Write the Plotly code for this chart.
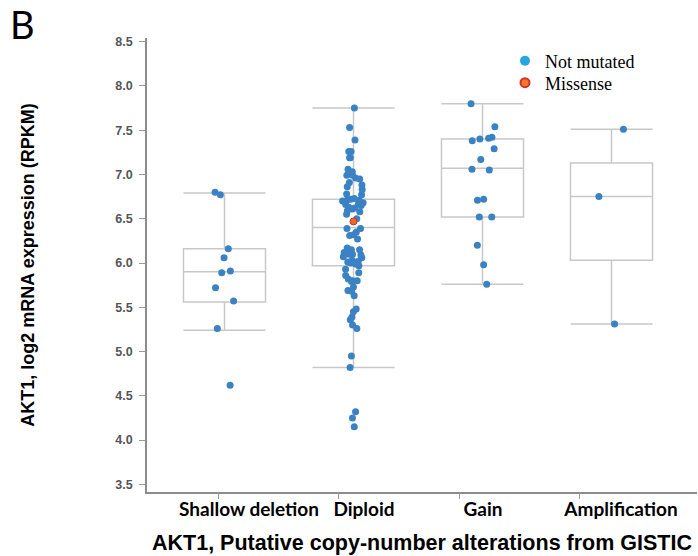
import plotly.graph_objects as go

# ---------------- data ----------------
categories = ["Shallow deletion", "Diploid", "Gain", "Amplification"]

shallow_deletion = [6.80, 6.77, 6.16, 6.06, 5.91, 5.89, 5.72, 5.57, 5.26, 4.62]
diploid = [7.75, 7.53, 7.39, 7.26, 7.26, 7.19, 7.19, 7.06, 7.03, 6.99, 6.99, 6.96,
           6.95, 6.91, 6.88, 6.86, 6.83, 6.78, 6.77, 6.73, 6.72, 6.71, 6.71, 6.70,
           6.68, 6.67, 6.66, 6.65, 6.63, 6.62, 6.61, 6.59, 6.58, 6.55, 6.50, 6.39,
           6.39, 6.35, 6.32, 6.31, 6.27, 6.17, 6.15, 6.15, 6.13, 6.12, 6.10, 6.10,
           6.09, 6.07, 6.06, 6.03, 6.02, 6.01, 6.00, 5.99, 5.97, 5.93, 5.89, 5.86,
           5.82, 5.80, 5.80, 5.79, 5.73, 5.69, 5.68, 5.63, 5.48, 5.45, 5.39, 5.36,
           5.30, 5.26, 4.95, 4.82, 4.32, 4.25, 4.15]
gain = [7.80, 7.54, 7.42, 7.41, 7.40, 7.38, 7.29, 7.17, 7.06, 7.05, 6.72, 6.71,
        6.52, 6.52, 6.20, 5.98, 5.76]
amplification = [7.51, 6.75, 5.31]
missense_category = "Diploid"
missense_values = [6.47]

# box statistics as drawn in the reference
box_lower = [5.24, 4.82, 5.76, 5.31]
box_q1 = [5.56, 5.97, 6.52, 6.03]
box_median = [5.90, 6.40, 7.07, 6.75]
box_q3 = [6.16, 6.72, 7.40, 7.13]
box_upper = [6.79, 7.75, 7.80, 7.51]

y_tick_values = [3.5, 4.0, 4.5, 5.0, 5.5, 6.0, 6.5, 7.0, 7.5, 8.0, 8.5]

# ---------------- figure ----------------
groups = [shallow_deletion, diploid, gain, amplification]
pos = list(range(len(categories)))
BOX_W = 0.636

fig = go.Figure()

fig.add_trace(go.Box(
    x=pos, q1=box_q1, median=box_median, q3=box_q3,
    lowerfence=box_lower, upperfence=box_upper,
    width=BOX_W, whiskerwidth=1, boxpoints=False,
    line=dict(color="#c8c8c8", width=1.5),
    fillcolor="rgba(255,255,255,0)", showlegend=False, hoverinfo="skip",
))

xs, ys = [], []
for i, g in enumerate(groups):
    xs += [pos[i]] * len(g)
    ys += g
fig.add_trace(go.Box(
    x=xs, y=ys, width=BOX_W, boxpoints="all", jitter=0.32, pointpos=0,
    line=dict(color="rgba(0,0,0,0)", width=0),
    fillcolor="rgba(0,0,0,0)",
    marker=dict(color="#3b82c4", size=7),
    showlegend=False,
))

mi = categories.index(missense_category)
fig.add_trace(go.Scatter(
    x=[pos[mi]] * len(missense_values), y=missense_values, mode="markers",
    marker=dict(color="#e9692c", size=7, line=dict(color="#c9302a", width=1)),
    showlegend=False,
))

# legend entries
fig.add_trace(go.Scatter(
    x=[None], y=[None], mode="markers", name="Not mutated",
    marker=dict(color="#26a6e0", size=10), legend="legend",
))
fig.add_trace(go.Scatter(
    x=[None], y=[None], mode="markers", name="Missense",
    marker=dict(color="#ef7b2a", size=9, line=dict(color="#d2302a", width=2)),
    legend="legend2",
))

L, R, T, B = 147, 1, 38, 64
PW = 698 - L - R
PH = 556 - T - B
PX = 129.0  # px per category step
x_lo = -(224.5 - L) / PX
x_hi = x_lo + PW / PX

def px_to_x(p):
    return x_lo + (p - L) / PX

def py_to_paper(p):
    return 1 - (p - T) / PH

legend_font = dict(family="Liberation Serif", size=18, color="black")

fig.update_layout(
    width=698, height=556,
    margin=dict(l=L, r=R, t=T, b=B),
    paper_bgcolor="white", plot_bgcolor="white",
    boxmode="overlay",
    showlegend=True,
    legend=dict(x=(505 - L) / PW, xanchor="left", y=py_to_paper(61), yanchor="middle",
                font=legend_font, bgcolor="rgba(0,0,0,0)", borderwidth=0),
    legend2=dict(x=(505 - L) / PW, xanchor="left", y=py_to_paper(83), yanchor="middle",
                 font=legend_font, bgcolor="rgba(0,0,0,0)", borderwidth=0),
    xaxis=dict(
        range=[x_lo, x_hi], showgrid=False, zeroline=False,
        showline=True, linecolor="#8c8c8c", linewidth=1.5,
        showticklabels=False, ticks="",
    ),
    xaxis2=dict(
        overlaying="x", matches="x", range=[x_lo, x_hi], showgrid=False, zeroline=False,
        showline=False, ticks="outside", ticklen=6, tickwidth=1.2, tickcolor="#999999",
        tickvals=[px_to_x(p) for p in (218, 338, 459, 579)], showticklabels=False,
        side="bottom", anchor="y",
    ),
    xaxis3=dict(
        overlaying="x", matches="x", range=[x_lo, x_hi], showgrid=False, zeroline=False,
        showline=False, ticks="", side="bottom", anchor="y",
        tickvals=[px_to_x(p) for p in (249, 364, 483, 621)], ticktext=categories,
        tickfont=dict(family="Lato", size=19, color="black", weight="bold"),
        ticklabelstandoff=4,
        title=dict(text="AKT1, Putative copy-number alterations from GISTIC",
                   font=dict(family="Liberation Sans", size=21.5, color="black", weight="bold"),
                   standoff=15),
    ),
    yaxis=dict(
        range=[3.5 - (492 - 484.3) / 88.5, 8.5 + (41.7 - T) / 88.5],
        tickvals=y_tick_values, tickformat=".1f",
        showgrid=False, zeroline=False,
        showline=True, linecolor="#8c8c8c", linewidth=1.5,
        ticks="outside", ticklen=6, tickwidth=1.2, tickcolor="#999999",
        tickfont=dict(family="Liberation Sans", size=12.5, color="#555555", weight="bold"),
        ticklabelstandoff=4,
        title=dict(text="AKT1, log2 mRNA expression (RPKM)",
                   font=dict(family="Liberation Sans", size=18, color="black", weight="bold"),
                   standoff=76),
    ),
    annotations=[dict(
        text="B", xref="paper", yref="paper",
        x=(22 - L) / PW, y=py_to_paper(24), xanchor="center", yanchor="middle",
        showarrow=False, font=dict(family="Lato", size=38, color="black"),
    )],
)

# put a dummy trace on the extra axes so they render
fig.add_trace(go.Scatter(x=[None], y=[None], xaxis="x2", showlegend=False, hoverinfo="skip"))
fig.add_trace(go.Scatter(x=[None], y=[None], xaxis="x3", showlegend=False, hoverinfo="skip"))

fig.write_html("out.html", config={"displayModeBar": False},
               post_script="document.body.style.margin='0';")
